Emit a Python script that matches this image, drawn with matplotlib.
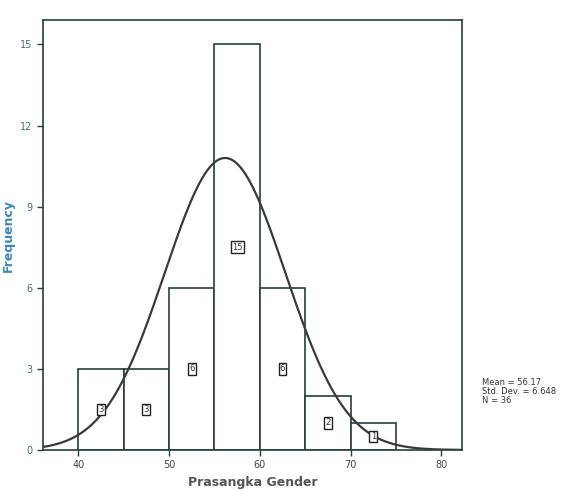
import numpy as np
import matplotlib.pyplot as plt

# histogram data (Prasangka Gender)
bin_edges = [40, 45, 50, 55, 60, 65, 70, 75]
counts = [3, 3, 6, 15, 6, 2, 1]
mean = 56.17
std = 6.648
n = 36
x_ticks = [40, 50, 60, 70, 80]
y_ticks = [0, 3, 6, 9, 12, 15]

edge = '#23403f'
fig = plt.figure(figsize=(5.65, 4.91), dpi=100)
ax = fig.add_axes([0.076, 0.0835, 0.742, 0.8755])

lefts = np.array(bin_edges[:-1])
widths = np.diff(bin_edges)
ax.bar(lefts, counts, width=widths, align='edge', color='white',
       edgecolor=edge, linewidth=1.2, zorder=2)

# count labels in small boxes at half bar height
for l, w, c in zip(lefts, widths, counts):
    ax.text(l + w / 2, c / 2, str(c), ha='center', va='center', fontsize=6,
            color='#333333', zorder=4,
            bbox=dict(boxstyle='square,pad=0.15', fc='white', ec='#222222', lw=1.0))

# normal curve
xs = np.linspace(36.1, 82.3, 400)
ys = n * widths[0] / (std * np.sqrt(2 * np.pi)) * np.exp(-0.5 * ((xs - mean) / std) ** 2)
ax.plot(xs, ys, color='#3a3a3a', lw=1.6, zorder=3)

ax.set_xlim(36.1, 82.3)
ax.set_ylim(0, 15.9)
ax.set_xticks(x_ticks)
ax.set_yticks(y_ticks)
ax.tick_params(labelsize=7, length=4, width=1)
ax.tick_params(axis='x', colors=edge, labelcolor='#444444')
ax.tick_params(axis='y', colors=edge, labelcolor='#4a6a80')
for s in ax.spines.values():
    s.set_color(edge)
    s.set_linewidth(1.2)

ax.set_ylabel('Frequency', color='#3d86b8', fontsize=9, fontweight='bold')
ax.set_xlabel('Prasangka Gender', color='#555555', fontsize=9, fontweight='bold')

fig.text(0.853, 0.175, 'Mean = %.2f\nStd. Dev. = %.3f\nN = %d' % (mean, std, n),
         fontsize=6, color='#333333', va='bottom', ha='left', linespacing=1.0)

fig.savefig('out.png', dpi=100)
